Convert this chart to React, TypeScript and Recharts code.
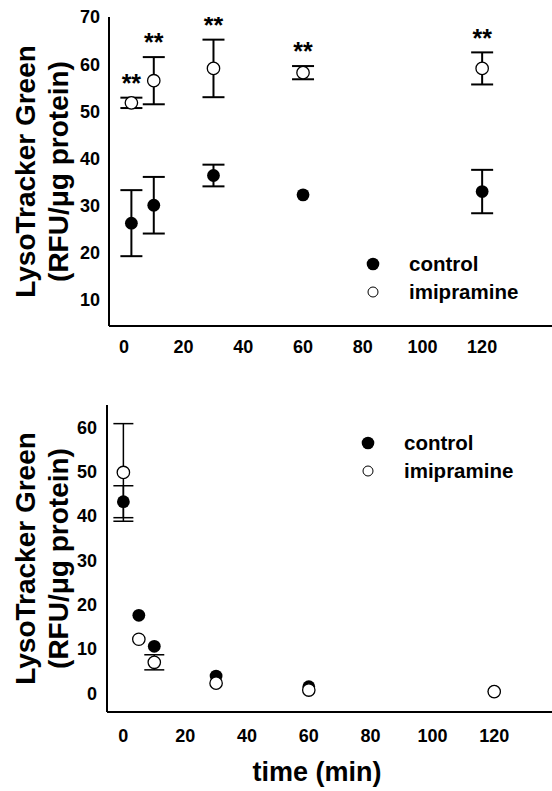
import { ScatterChart, Scatter, XAxis, YAxis, ErrorBar, Legend } from 'recharts';

// top panel: uptake over time
const topTime = [2.5, 10, 30, 60, 120];
const topControl = [26.3, 30.1, 36.4, 32.3, 33.0];
const topControlErr = [7.0, 6.0, 2.3, 0, 4.6];
const topImip = [51.8, 56.5, 59.1, 58.2, 59.1];
const topImipErr = [1.1, 5.0, 6.1, 1.4, 3.4];
const topXTicks = [0, 20, 40, 60, 80, 100, 120];
const topYTicks = [10, 20, 30, 40, 50, 60, 70];

// bottom panel: washout over time
const botTime = [0, 5, 10, 30, 60, 120];
const botControl = [43.2, 17.6, 10.6, 3.9, 1.5, 0.4];
const botControlErr = [3.6, 0, 0, 0, 0, 0];
const botImip = [49.8, 12.2, 7.0, 2.3, 0.75, 0.4];
const botImipErr = [11.0, 0, 1.7, 0, 0, 0];
const botXTicks = [0, 20, 40, 60, 80, 100, 120];
const botYTicks = [0, 10, 20, 30, 40, 50, 60];

const seriesNames = ['control', 'imipramine'];
const yTitle = ['LysoTracker Green', '(RFU/\u03bcg protein)'];
const xTitle = 'time (min)';

const FONT = '"Liberation Sans", Arial, sans-serif';
const STAR_GAP = 4.2; // gap between error bar top and ** mark, in y units

const rows = (xs: number[], ys: number[], errs: number[]) =>
  xs.map((x, i) => ({ x, y: ys[i], err: errs[i] || undefined }));

const topControlData = rows(topTime, topControl, topControlErr);
const topImipData = rows(topTime, topImip, topImipErr);
const topStarData = topTime.map((x, i) => ({ x, y: topImip[i] + topImipErr[i] + STAR_GAP }));
const botControlData = rows(botTime, botControl, botControlErr);
const botImipData = rows(botTime, botImip, botImipErr);

const tickStyle = { fontFamily: FONT, fontWeight: 700, fontSize: 18, fill: '#000' };

const Filled = (p: any) => <circle cx={p.cx} cy={p.cy} r={6.4} fill="#000" />;
const Open = (p: any) => <circle cx={p.cx} cy={p.cy} r={6.2} fill="#fff" stroke="#000" strokeWidth={1.3} />;
const Stars = (p: any) => (
  <text x={p.cx} y={p.cy + 14} textAnchor="middle" fontFamily={FONT} fontWeight={700} fontSize={25} fill="#000">
    **
  </text>
);

const YTitle = ({ viewBox }: any) => {
  const cy = viewBox.y + viewBox.height / 2;
  return (
    <g fontFamily={FONT} fontWeight={700} fontSize={28} fill="#000">
      <text x={35} y={cy} textAnchor="middle" transform={`rotate(-90 35 ${cy})`}>{yTitle[0]}</text>
      <text x={68} y={cy} textAnchor="middle" transform={`rotate(-90 68 ${cy})`}>{yTitle[1]}</text>
    </g>
  );
};

const LegendBox = () => (
  <svg width={190} height={56}>
    <circle cx={8} cy={12} r={6.3} fill="#000" />
    <circle cx={8} cy={40} r={5} fill="#fff" stroke="#000" strokeWidth={1} />
    <g fontFamily={FONT} fontWeight={700} fontSize={20.5} fill="#000">
      <text x={44} y={19}>{seriesNames[0]}</text>
      <text x={44} y={47}>{seriesNames[1]}</text>
    </g>
  </svg>
);

export default function App() {
  return (
    <div style={{ position: 'absolute', left: 0, top: 0, width: 552, height: 791, background: '#fff' }}>
      <div style={{ position: 'absolute', left: 0, top: 0 }}>
        <ScatterChart width={552} height={390} margin={{ top: 17, right: 0, bottom: 0, left: 0 }}>
          <XAxis
            type="number"
            dataKey="x"
            domain={[-5, 143.4]}
            ticks={topXTicks}
            allowDataOverflow
            height={64}
            tickLine={false}
            tickSize={0}
            tickMargin={14}
            tick={tickStyle}
            axisLine={{ stroke: '#000', strokeWidth: 2 }}
          />
          <YAxis
            type="number"
            dataKey="y"
            domain={[4.5, 70]}
            ticks={topYTicks}
            allowDataOverflow
            width={109}
            tickLine={false}
            tickSize={0}
            tickMargin={9}
            tick={tickStyle}
            axisLine={{ stroke: '#000', strokeWidth: 2 }}
            label={{ content: YTitle }}
          />
          <Legend
            layout="vertical"
            align="center"
            verticalAlign="middle"
            wrapperStyle={{ top: 252, left: 365, width: 190 }}
            content={LegendBox}
          />
          <Scatter name={seriesNames[0]} data={topControlData} shape={Filled} isAnimationActive={false}>
            <ErrorBar dataKey="err" direction="y" width={11} strokeWidth={2} stroke="#000" isAnimationActive={false} />
          </Scatter>
          <Scatter name={seriesNames[1]} data={topImipData} shape={Open} isAnimationActive={false}>
            <ErrorBar dataKey="err" direction="y" width={11} strokeWidth={2} stroke="#000" isAnimationActive={false} />
          </Scatter>
          <Scatter name="sig" data={topStarData} shape={Stars} legendType="none" isAnimationActive={false} />
        </ScatterChart>
      </div>
      <div style={{ position: 'absolute', left: 0, top: 390 }}>
        <ScatterChart width={552} height={401} margin={{ top: 15, right: 0, bottom: 0, left: 0 }}>
          <XAxis
            type="number"
            dataKey="x"
            domain={[-5.3, 138.7]}
            ticks={botXTicks}
            allowDataOverflow
            height={79}
            tickLine={false}
            tickSize={0}
            tickMargin={17}
            tick={tickStyle}
            axisLine={{ stroke: '#000', strokeWidth: 2 }}
            label={({ viewBox }: any) => (
              <text x={317} y={viewBox.y + 69} textAnchor="middle" fontFamily={FONT} fontWeight={700} fontSize={27} fill="#000">
                {xTitle}
              </text>
            )}
          />
          <YAxis
            type="number"
            dataKey="y"
            domain={[-4.2, 65]}
            ticks={botYTicks}
            allowDataOverflow
            width={107}
            tickLine={false}
            tickSize={0}
            tickMargin={10}
            tick={tickStyle}
            axisLine={{ stroke: '#000', strokeWidth: 2 }}
            label={{ content: YTitle }}
          />
          <Legend
            layout="vertical"
            align="center"
            verticalAlign="middle"
            wrapperStyle={{ top: 41, left: 360, width: 190 }}
            content={LegendBox}
          />
          <Scatter name={seriesNames[0]} data={botControlData} shape={Filled} isAnimationActive={false}>
            <ErrorBar dataKey="err" direction="y" width={10} strokeWidth={1.5} stroke="#000" isAnimationActive={false} />
          </Scatter>
          <Scatter name={seriesNames[1]} data={botImipData} shape={Open} isAnimationActive={false}>
            <ErrorBar dataKey="err" direction="y" width={10} strokeWidth={1.5} stroke="#000" isAnimationActive={false} />
          </Scatter>
        </ScatterChart>
      </div>
    </div>
  );
}
